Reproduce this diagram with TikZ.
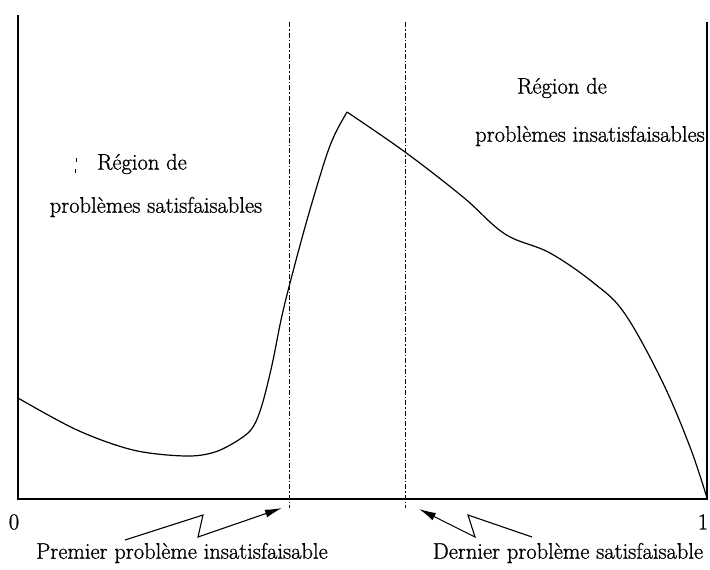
\documentclass[tikz,border=0pt]{standalone}
\usepackage{fontspec}
\setmainfont{Latin Modern Roman}[FakeBold=1.0]
\usetikzlibrary{arrows.meta}
\tikzset{
  axis/.style={line width=1.4pt},
  curve/.style={line width=1.2pt, line join=round},
  dashdot/.style={line width=1pt, dash pattern=on 5pt off 2pt on 1.5pt off 2pt},
  lbl/.style={inner sep=0pt, font=\fontsize{22.5}{27}\selectfont},
  zig/.style={line width=1.1pt, -{Latex[length=17pt,width=8pt]}},
}
\begin{document}
\begin{tikzpicture}[x=1pt,y=-1pt]
\useasboundingbox (0,0) rectangle (710,570);
% axes
\coordinate (lt) at (18,15);
\coordinate (lb) at (18,499);
\coordinate (rt) at (707,22);
\coordinate (rb) at (707,499);
\draw[axis] (lt) -- (lb) -- (rb) -- (rt);
% dash-dot verticals
\coordinate (d1t) at (289,22); \coordinate (d1b) at (289,508);
\coordinate (d2t) at (405,22); \coordinate (d2b) at (405,508);
\draw[dashdot] (d1t) -- (d1b);
\draw[dashdot] (d2t) -- (d2b);
% curve
\draw[curve] plot[smooth, tension=0.55] coordinates {(18,398) (77,430) (133,450) (185,456) (215,452) (240,439) (253,427) (262,405) (272,365) (281,320) (290,283) (307,220) (325,160) (335,134) (347,112)};
\draw[curve] plot[smooth, tension=0.6] coordinates {(347,112) (405,152) (463,197) (505,234) (550,253) (595,284) (625,314) (662,381) (690,447) (707,498)};
% labels
\node[lbl] (l0) at (14,522) {0};
\node[lbl] (l1) at (703,522) {1};
\node[lbl] (r1) at (142,164) {Région de};
\node[lbl] (r2) at (156,207) {problèmes satisfaisables};
\node[lbl] (r3) at (562,88) {Région de};
\node[lbl] (r4) at (590,136) {problèmes insatisfaisables};
\node[lbl] (p1) at (182,553) {Premier problème insatisfaisable};
\node[lbl] (p2) at (568,553) {Dernier problème satisfaisable};
% small marks near left label
\draw[line width=0.8pt] (76,158) -- (76,162) (75,169) -- (75,173);
% zigzag arrows
\coordinate (a1s) at (125,540); \coordinate (a1m) at (203,515); \coordinate (a1n) at (198,537); \coordinate (a1e) at (282,508);
\draw[zig] (a1s) -- (a1m) -- (a1n) -- (a1e);
\coordinate (a2s) at (532,537); \coordinate (a2m) at (468,515); \coordinate (a2n) at (475,537); \coordinate (a2e) at (419,509);
\draw[zig] (a2s) -- (a2m) -- (a2n) -- (a2e);
\end{tikzpicture}
\end{document}
